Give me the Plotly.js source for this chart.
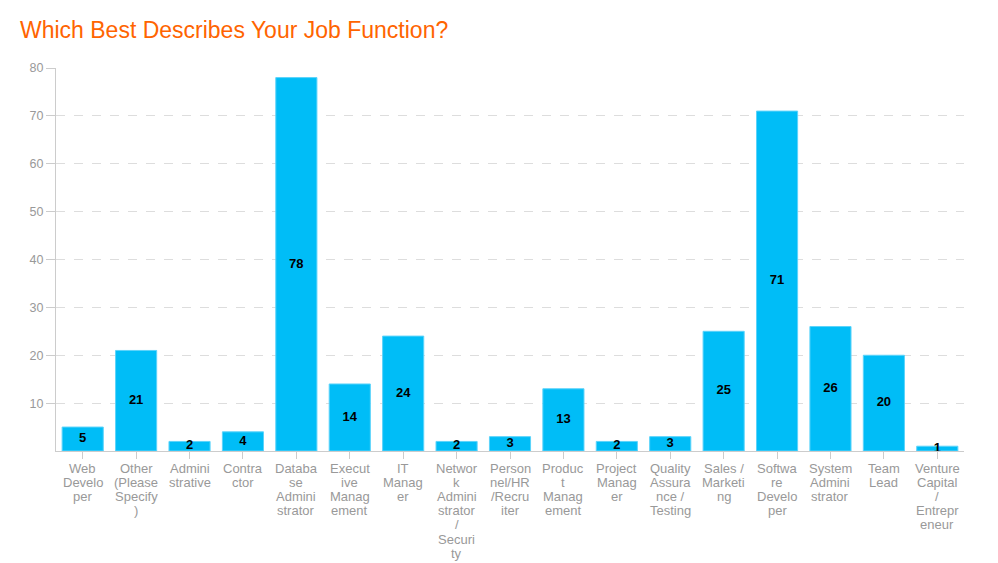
<!DOCTYPE html>
<html>
<head>
<meta charset="utf-8">
<script src="https://cdn.plot.ly/plotly-3.0.1.min.js"></script>
<style>html,body{margin:0;padding:0;background:#fff;}#chart{width:998px;height:563px;}</style>
</head>
<body>
<div id="chart"></div>
<script>
const categories = [
  "Web Developer", "Other (Please Specify)", "Administrative", "Contractor",
  "Database Administrator", "Executive Management", "IT Manager",
  "Network Administrator / Security", "Personnel/HR/Recruiter", "Product Management",
  "Project Manager", "Quality Assurance / Testing", "Sales / Marketing",
  "Software Developer", "System Administrator", "Team Lead", "Venture Capital / Entrepreneur"
];
const tickLabels = [
  "Web<br>Develo<br>per", "Other<br>(Please<br>Specify<br>)", "Admini<br>strative", "Contra<br>ctor",
  "Databa<br>se<br>Admini<br>strator", "Execut<br>ive<br>Manag<br>ement", "IT<br>Manag<br>er",
  "Networ<br>k<br>Admini<br>strator<br>/<br>Securi<br>ty", "Person<br>nel/HR<br>/Recru<br>iter",
  "Produc<br>t<br>Manag<br>ement", "Project<br>Manag<br>er", "Quality<br>Assura<br>nce /<br>Testing",
  "Sales /<br>Marketi<br>ng", "Softwa<br>re<br>Develo<br>per", "System<br>Admini<br>strator",
  "Team<br>Lead", "Venture<br>Capital<br>/<br>Entrepr<br>eneur"
];
const values = [5, 21, 2, 4, 78, 14, 24, 2, 3, 13, 2, 3, 25, 71, 26, 20, 1];
const yTicks = [10, 20, 30, 40, 50, 60, 70, 80];

const FONT = 'Liberation Sans, Arial, Helvetica, sans-serif';

const bars = {
  type: 'bar', x: categories, y: values,
  marker: {color: '#00BDF7', line: {color: '#5CD3FA', width: 1}},
  hoverinfo: 'skip', width: 0.77
};
const labels = {
  type: 'scatter', mode: 'text', x: categories, y: values.map(v => v / 2),
  text: values.map(String), textposition: 'middle center',
  textfont: {family: FONT, size: 13, color: '#000', weight: 'bold'},
  hoverinfo: 'skip', showlegend: false, cliponaxis: false
};

// category labels drawn line by line for tight line spacing
const annotations = [];
categories.forEach((c, i) => {
  tickLabels[i].split('<br>').forEach((line, j) => {
    annotations.push({
      x: c, xref: 'x', y: 0, yref: 'y', yanchor: 'middle', xanchor: 'center',
      yshift: -(17 + j * 14.2), text: line, showarrow: false,
      font: {family: FONT, size: 13, color: '#999'}
    });
  });
});

Plotly.newPlot('chart', [bars, labels], {
  width: 998, height: 563,
  margin: {l: 56, r: 34, t: 68, b: 112},
  paper_bgcolor: '#fff', plot_bgcolor: '#fff',
  showlegend: false,
  annotations: annotations,
  title: {text: 'Which Best Describes Your Job Function?', x: 0.02, xanchor: 'left', y: 0.947, yanchor: 'middle',
    font: {family: FONT, size: 23, color: '#FF6400'}},
  font: {family: FONT, color: '#999'},
  xaxis: {
    type: 'category', range: [-0.5, 16.5], tickmode: 'array', tickvals: categories,
    showticklabels: false,
    ticks: 'outside', ticklen: 7, tickcolor: '#ccc',
    showline: true, linecolor: '#ccc', linewidth: 1, showgrid: false, fixedrange: true
  },
  yaxis: {
    range: [0, 80], tickmode: 'array', tickvals: yTicks,
    ticks: 'outside', ticklen: 9, tickcolor: '#ccc',
    showline: true, linecolor: '#ccc', linewidth: 1,
    showgrid: true, gridcolor: '#ddd', griddash: 'dash', gridwidth: 1,
    zeroline: false, tickfont: {size: 12.5, color: '#999'}, fixedrange: true
  }
}, {displayModeBar: false, staticPlot: true});
</script>
</body>
</html>
